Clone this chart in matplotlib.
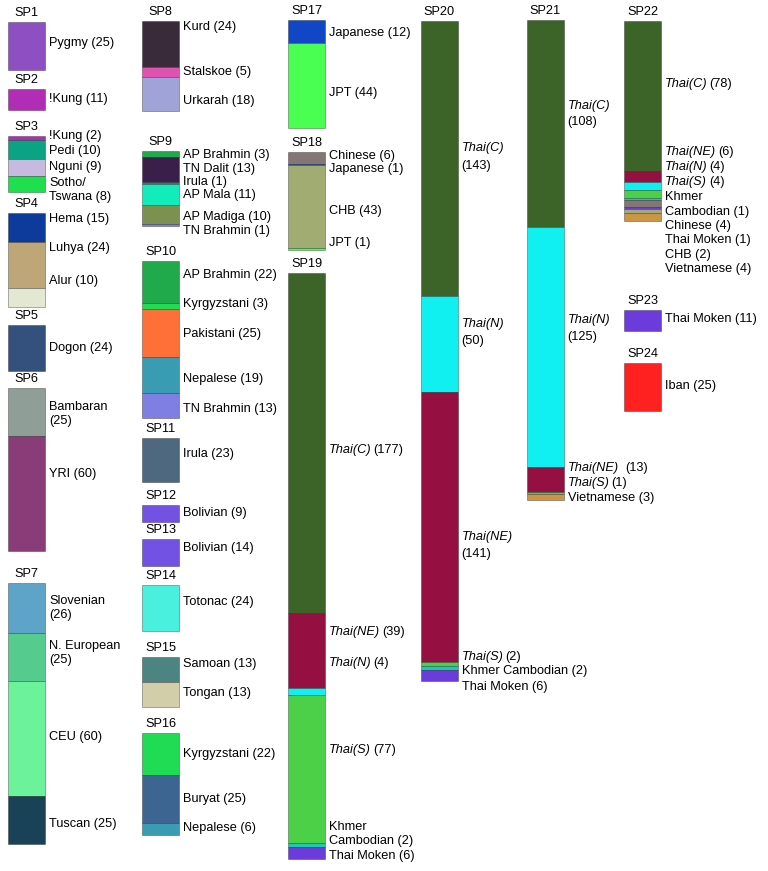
import matplotlib.pyplot as plt

plt.rcParams['font.family'] = ['Liberation Sans', 'DejaVu Sans']

# -----------------------------
# Data: groups, populations, sample counts
# -----------------------------
groups = ["SP1", "SP2", "SP3", "SP4", "SP5", "SP6", "SP7",
          "SP8", "SP9", "SP10", "SP11", "SP12", "SP13", "SP14", "SP15", "SP16",
          "SP17", "SP18", "SP19", "SP20", "SP21", "SP22", "SP23", "SP24"]

pops = [
    ["Pygmy"],
    ["!Kung"],
    ["!Kung", "Pedi", "Nguni", "Sotho/\nTswana"],
    ["Hema", "Luhya", "Alur"],
    ["Dogon"],
    ["Bambaran", "YRI"],
    ["Slovenian", "N. European", "CEU", "Tuscan"],
    ["Kurd", "Stalskoe", "Urkarah"],
    ["AP Brahmin", "TN Dalit", "Irula", "AP Mala", "AP Madiga", "TN Brahmin"],
    ["AP Brahmin", "Kyrgyzstani", "Pakistani", "Nepalese", "TN Brahmin"],
    ["Irula"],
    ["Bolivian"],
    ["Bolivian"],
    ["Totonac"],
    ["Samoan", "Tongan"],
    ["Kyrgyzstani", "Buryat", "Nepalese"],
    ["Japanese", "JPT"],
    ["Chinese", "Japanese", "CHB", "JPT"],
    ["Thai(C)", "Thai(NE)", "Thai(N)", "Thai(S)", "Khmer\nCambodian", "Thai Moken"],
    ["Thai(C)", "Thai(N)", "Thai(NE)", "Thai(S)", "Khmer Cambodian", "Thai Moken"],
    ["Thai(C)", "Thai(N)", "Thai(NE)", "Thai(S)", "Vietnamese"],
    ["Thai(C)", "Thai(NE)", "Thai(N)", "Thai(S)", "Khmer\nCambodian", "Chinese",
     "Thai Moken", "CHB", "Vietnamese"],
    ["Thai Moken"],
    ["Iban"],
]

counts = [
    [25], [11], [2, 10, 9, 8], [15, 24, 10], [24], [25, 60], [26, 25, 60, 25],
    [24, 5, 18], [3, 13, 1, 11, 10, 1], [22, 3, 25, 19, 13], [23], [9], [14],
    [24], [13, 13], [22, 25, 6],
    [12, 44], [6, 1, 43, 1], [177, 39, 4, 77, 2, 6],
    [143, 50, 141, 2, 2, 6], [108, 125, 13, 1, 3],
    [78, 6, 4, 4, 1, 4, 1, 2, 4], [11], [25],
]

# labels where the count goes on its own line
count_on_new_line = {("SP6", 0), ("SP7", 0), ("SP7", 1),
                     ("SP20", 0), ("SP20", 1), ("SP20", 2),
                     ("SP21", 0), ("SP21", 1)}

colors = {
    "Pygmy": "#8E4FC2", "!Kung": "#B22DB5", "Pedi": "#0AA383", "Nguni": "#C7B9E0",
    "Sotho/ Tswana": "#1EE04E", "Hema": "#0D3B9C", "Luhya": "#BFA679", "Alur": "#E3E8D2",
    "Dogon": "#34507C", "Bambaran": "#8F9E96", "YRI": "#8A3C78",
    "Slovenian": "#5EA4C8", "N. European": "#55CB8E", "CEU": "#6BF29A", "Tuscan": "#1A4256",
    "Kurd": "#3A2B3B", "Stalskoe": "#E052B2", "Urkarah": "#A0A3D8",
    "AP Brahmin": "#20AA4C", "TN Dalit": "#3A1F4A", "Irula": "#4E6880",
    "AP Mala": "#12ECBA", "AP Madiga": "#7C9150", "TN Brahmin": "#7F7EE2",
    "Kyrgyzstani": "#20DC55", "Pakistani": "#FF7038", "Nepalese": "#3A9CB2",
    "Bolivian": "#7152E2", "Totonac": "#4AF0DE", "Samoan": "#4C8482", "Tongan": "#D3CEAA",
    "Buryat": "#3C6592", "Japanese": "#1147C6", "JPT": "#48FF52", "Chinese": "#857676",
    "CHB": "#A1AC72", "Thai(C)": "#3C6429", "Thai(NE)": "#951040", "Thai(N)": "#10F0F0",
    "Thai(S)": "#4CD048", "Khmer Cambodian": "#1FC8B4", "Thai Moken": "#6B3BDC",
    "Vietnamese": "#CC9444", "Iban": "#FF2020",
}

# -----------------------------
# Layout (pixels)
# -----------------------------
PX = 1.92          # pixels per sample
BAR_W = 37
FS = 9.2
bar_x = [26.5] * 7 + [160.5] * 9 + [306.5] * 3 + [439, 545] + [642.5] * 3
bar_top = [22, 89, 136, 213, 325, 388, 583,
           21, 151, 261, 438, 505, 539, 585, 657, 733,
           20, 152, 273, 21, 20, 21, 310, 363]
label_y = [
    [43], [99], [136, 151, 167, 190], [219, 248, 281], [348], [414, 474],
    [608, 653, 737, 824],
    [27, 72, 101], [155, 169, 182, 195, 217, 231], [275, 304, 334, 379, 409],
    [454], [513], [548], [602], [664, 693], [754, 799, 828],
    [33, 93], [156, 169, 211, 243], [450, 632, 663, 750, 834, 856],
    [157, 332, 545, 657, 671, 687], [114, 328, 468, 483, 498],
    [84, 152, 167, 182, 204.5, 226, 240, 255, 269], [319], [386],
]


def draw_label(x0, y, name, n, newline, gap=1.4):
    # "Thai(...)" names are italic, the count stays upright
    if name.startswith("Thai("):
        if newline:
            ax.text(x0, y - 8.5, name, fontsize=FS, style='italic', va='center')
            ax.text(x0, y + 8.5, f"({n})", fontsize=FS, va='center')
        else:
            t = ax.text(x0, y, name, fontsize=FS, style='italic', va='center')
            ax.annotate(f"({n})", xy=(1, 0.5), xycoords=t, xytext=(gap, 0),
                        textcoords='offset points', fontsize=FS,
                        va='center', ha='left')
    else:
        sep = "\n" if newline else " "
        ax.text(x0, y, f"{name}{sep}({n})", fontsize=FS, va='center',
                ha='left', linespacing=1.3)


fig = plt.figure(figsize=(7.68, 8.71), dpi=100)
ax = fig.add_axes([0, 0, 1, 1])
ax.set_xlim(0, 768)
ax.set_ylim(871, 0)
ax.axis('off')

for gi, g in enumerate(groups):
    x = bar_x[gi]
    y = bar_top[gi]
    for pi, (name, n) in enumerate(zip(pops[gi], counts[gi])):
        key = name.replace("\n", " ")
        ax.bar(x, n * PX, bottom=y, width=BAR_W, color=colors[key],
               edgecolor=(0, 0, 0, 0.35), linewidth=0.6)
        y += n * PX
        gap = 4.5 if (g == "SP21" and name == "Thai(NE)") else 1.4
        draw_label(x + BAR_W / 2 + 4, label_y[gi][pi], name, n,
                   (g, pi) in count_on_new_line, gap)
    ax.text(x, bar_top[gi] - 9, g, fontsize=FS, ha='center', va='center')

fig.savefig("out.png", dpi=100)
